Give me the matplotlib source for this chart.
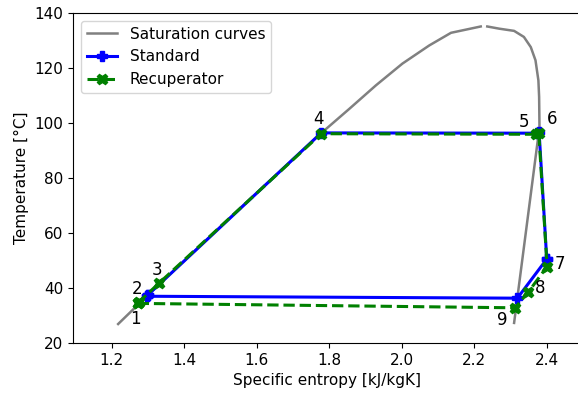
import numpy as np
import matplotlib.pyplot as plt

# saturation curves (liquid side and vapour side)
s_liq = [1.218, 1.300, 1.550, 1.778, 1.856, 1.929, 2.002, 2.076, 2.136, 2.218]
T_liq = [26.9, 37.4, 68.5, 96.3, 105.2, 113.7, 121.6, 128.2, 132.8, 135.1]
s_vap = [2.236, 2.269, 2.310, 2.337, 2.356, 2.369, 2.377, 2.379, 2.380, 2.310]
T_vap = [135.1, 134.3, 133.5, 131.3, 127.6, 122.8, 115.5, 109.5, 98.5, 27.3]

# cycle states 1..9, closed back to 1
s_std = [1.298, 1.301, 1.301, 1.778, 2.372, 2.379, 2.400, 2.400, 2.319, 1.298]
T_std = [37.0, 37.6, 37.6, 96.4, 96.3, 96.6, 50.5, 50.5, 36.3, 37.0]
s_rec = [1.273, 1.276, 1.331, 1.778, 2.370, 2.378, 2.401, 2.349, 2.313, 1.273]
T_rec = [34.4, 35.0, 41.8, 96.1, 95.9, 96.5, 47.8, 38.5, 32.8, 34.4]

labels = ['1', '2', '3', '4', '5', '6', '7', '8', '9']
label_s = [1.267, 1.270, 1.325, 1.771, 2.337, 2.414, 2.437, 2.382, 2.278]
label_T = [28.8, 39.7, 46.7, 101.5, 100.5, 101.5, 48.8, 40.1, 28.5]

plt.rcParams['font.size'] = 11

fig = plt.figure(figsize=(5.78, 3.96), dpi=100)
# right spine sits just past the image edge, as in the reference crop
ax = fig.add_axes([73 / 578, 53 / 396, 508 / 578, 330 / 396])

ax.plot(s_liq, T_liq, color='grey', linewidth=1.8, label='Saturation curves')
ax.plot(s_vap, T_vap, color='grey', linewidth=1.8)
ax.plot(s_std, T_std, color='blue', linewidth=2.2, marker='P', markersize=7.5,
        label='Standard')
ax.plot(s_rec, T_rec, color='green', linewidth=2.2, linestyle='--', marker='X',
        markersize=7.5, label='Recuperator')

for lab, x, y in zip(labels, label_s, label_T):
    ax.text(x, y, lab, fontsize=12, ha='center', va='center')

ax.set_xlim(1.0935, 2.4945)
ax.set_ylim(20, 140)
ax.set_xticks([1.2, 1.4, 1.6, 1.8, 2.0, 2.2, 2.4])
ax.set_xlabel('Specific entropy [kJ/kgK]')
ax.set_ylabel('Temperature [°C]')
ax.legend(loc='upper left')

fig.savefig('out.png', dpi=100)
